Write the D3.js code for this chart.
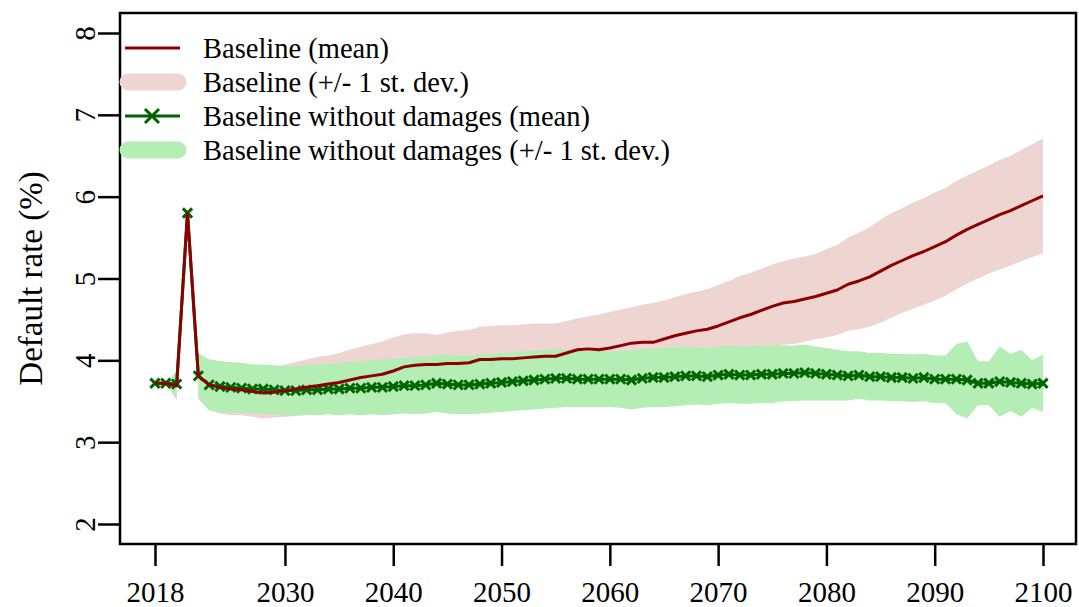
<!DOCTYPE html>
<html><head><meta charset="utf-8">
<script src="https://cdn.jsdelivr.net/npm/d3@7"></script>
<style>body{margin:0;background:#fff}svg{display:block}svg text{font-family:'Liberation Serif','Times New Roman',serif}</style>
</head><body>
<svg id="c" width="1079" height="607"></svg>
<script>
const years = d3.range(2018, 2101);
const baselineMean = [3.72,3.72,3.69,5.80,3.81,3.70,3.67,3.65,3.64,3.62,3.60,3.61,3.63,3.65,3.67,3.69,3.71,3.73,3.76,3.79,3.81,3.83,3.87,3.92,3.94,3.95,3.95,3.96,3.96,3.97,4.01,4.01,4.02,4.02,4.03,4.04,4.05,4.05,4.09,4.13,4.14,4.13,4.15,4.18,4.21,4.22,4.22,4.26,4.30,4.33,4.36,4.38,4.42,4.47,4.52,4.56,4.61,4.66,4.70,4.72,4.75,4.78,4.82,4.86,4.93,4.97,5.02,5.09,5.16,5.22,5.28,5.33,5.39,5.45,5.53,5.60,5.66,5.72,5.78,5.83,5.89,5.95,6.01];
const baselineSd = [0,0,0.18,null,0.28,0.31,0.32,0.32,0.31,0.31,0.31,0.31,0.32,0.33,0.34,0.35,0.35,0.36,0.37,0.38,0.39,0.40,0.41,0.40,0.39,0.38,0.36,0.38,0.40,0.40,0.40,0.41,0.41,0.41,0.41,0.41,0.40,0.40,0.39,0.38,0.40,0.43,0.44,0.44,0.44,0.46,0.48,0.47,0.47,0.48,0.48,0.49,0.50,0.50,0.51,0.51,0.51,0.51,0.51,0.52,0.52,0.52,0.54,0.55,0.57,0.59,0.61,0.63,0.64,0.64,0.65,0.65,0.66,0.66,0.66,0.66,0.66,0.66,0.67,0.67,0.68,0.69,0.70];
const noDamMean = [3.72,3.72,3.71,5.80,3.81,3.70,3.68,3.67,3.66,3.65,3.65,3.64,3.63,3.63,3.64,3.64,3.65,3.65,3.66,3.66,3.67,3.67,3.68,3.69,3.69,3.70,3.72,3.71,3.70,3.70,3.71,3.72,3.73,3.74,3.75,3.76,3.77,3.78,3.78,3.77,3.77,3.77,3.77,3.77,3.76,3.78,3.79,3.79,3.80,3.81,3.81,3.80,3.82,3.83,3.82,3.82,3.83,3.83,3.84,3.84,3.85,3.84,3.83,3.82,3.81,3.82,3.80,3.80,3.79,3.79,3.78,3.79,3.77,3.77,3.77,3.76,3.72,3.72,3.74,3.73,3.72,3.71,3.72];
const noDamSd = [0,0,0.17,null,0.27,0.31,0.31,0.31,0.31,0.30,0.30,0.30,0.30,0.30,0.30,0.31,0.31,0.32,0.32,0.33,0.33,0.34,0.34,0.34,0.35,0.35,0.35,0.36,0.36,0.36,0.36,0.36,0.36,0.36,0.36,0.36,0.36,0.36,0.35,0.34,0.34,0.34,0.34,0.35,0.36,0.36,0.36,0.36,0.36,0.36,0.35,0.35,0.35,0.35,0.35,0.35,0.35,0.35,0.34,0.34,0.34,0.33,0.32,0.31,0.30,0.29,0.29,0.29,0.29,0.29,0.29,0.29,0.29,0.29,0.43,0.47,0.27,0.27,0.43,0.35,0.41,0.29,0.35];
const xTicks = [2018,2030,2040,2050,2060,2070,2080,2090,2100];
const yTicks = [2,3,4,5,6,7,8];
const legendLabels = ["Baseline (mean)","Baseline (+/- 1 st. dev.)","Baseline without damages (mean)","Baseline without damages (+/- 1 st. dev.)"];

const COL = {red:"#8B0000", redBand:"#EED5D2", green:"#006400", greenBand:"#B4EEB4"};
const FONT = "'Liberation Serif','Times New Roman',serif";
const svg = d3.select("#c");
const box = {l:120, r:1076, t:13, b:544};
const x = d3.scaleLinear().domain([2018,2100]).range([155,1043]);
const y = d3.scaleLinear().domain([2,8]).range([524,33]);

const rows = (m, s) => years.map((yr,i)=>({yr, m:m[i], s:s[i]}));
const base = rows(baselineMean, baselineSd), nod = rows(noDamMean, noDamSd);
const area = d3.area().defined(d=>d.s!=null).x(d=>x(d.yr)).y0(d=>y(d.m-d.s)).y1(d=>y(d.m+d.s));
const line = d3.line().x(d=>x(d.yr)).y(d=>y(d.m));

svg.append("path").datum(base).attr("d",area).attr("fill",COL.redBand);
svg.append("path").datum(nod).attr("d",area).attr("fill",COL.greenBand);
svg.append("path").datum(nod).attr("d",line).attr("fill","none").attr("stroke",COL.green).attr("stroke-width",3);
const cs = 4.6;
svg.append("g").selectAll("path").data(nod).join("path")
  .attr("d",d=>{const cx=x(d.yr), cy=y(d.m);return `M${cx-cs},${cy-cs}L${cx+cs},${cy+cs}M${cx-cs},${cy+cs}L${cx+cs},${cy-cs}`;})
  .attr("stroke",COL.green).attr("stroke-width",3).attr("fill","none");
svg.append("path").datum(base).attr("d",line).attr("fill","none").attr("stroke",COL.red).attr("stroke-width",3).attr("stroke-linejoin","round");

// box
svg.append("rect").attr("x",box.l).attr("y",box.t).attr("width",box.r-box.l).attr("height",box.b-box.t)
  .attr("fill","none").attr("stroke","#000").attr("stroke-width",2.5);

// x axis
const xa = svg.append("g").attr("transform",`translate(0,${box.b})`)
  .call(d3.axisBottom(x).tickValues(xTicks).tickFormat(d3.format("d")).tickSize(22).tickPadding(15));
xa.attr("font-family",FONT).attr("font-size",29);
xa.select(".domain").remove();
xa.selectAll("line").attr("stroke-width",2.5);
xa.selectAll("text").style("font-family",FONT).style("font-size","29px").attr("fill","#000");

// y axis
const ya = svg.append("g").attr("transform",`translate(${box.l},0)`)
  .call(d3.axisLeft(y).tickValues(yTicks).tickFormat(d3.format("d")).tickSize(22).tickPadding(0));
ya.attr("font-family",FONT).attr("font-size",29);
ya.select(".domain").remove();
ya.selectAll("line").attr("stroke-width",2.5);
ya.selectAll("text").style("font-family",FONT).style("font-size","29px").attr("fill","#000")
  .attr("x",null).attr("dy",null).attr("text-anchor","middle").attr("dominant-baseline","central")
  .attr("transform","translate(-35,0) rotate(-90)");

svg.append("text").attr("transform",`translate(31,${(box.t+box.b)/2}) rotate(-90)`)
  .attr("text-anchor","middle").attr("dominant-baseline","central")
  .style("font-family",FONT).style("font-size","33px").text("Default rate (%)");

// legend
const lg = svg.append("g");
const ly = [48,82,116,150];
lg.append("line").attr("x1",125).attr("x2",180).attr("y1",ly[0]).attr("y2",ly[0]).attr("stroke",COL.red).attr("stroke-width",3);
lg.append("line").attr("x1",128).attr("x2",178).attr("y1",ly[1]).attr("y2",ly[1]).attr("stroke",COL.redBand).attr("stroke-width",17).attr("stroke-linecap","round");
lg.append("line").attr("x1",125).attr("x2",180).attr("y1",ly[2]).attr("y2",ly[2]).attr("stroke",COL.green).attr("stroke-width",3);
const lc = 7;
lg.append("path").attr("d",`M${152-lc},${ly[2]-lc}L${152+lc},${ly[2]+lc}M${152-lc},${ly[2]+lc}L${152+lc},${ly[2]-lc}`).attr("stroke",COL.green).attr("stroke-width",3);
lg.append("line").attr("x1",128).attr("x2",178).attr("y1",ly[3]).attr("y2",ly[3]).attr("stroke",COL.greenBand).attr("stroke-width",17).attr("stroke-linecap","round");
lg.selectAll("text").data(legendLabels).join("text")
  .attr("x",203).attr("y",(d,i)=>ly[i]).attr("dominant-baseline","central")
  .style("font-family",FONT).style("font-size","28.5px").text(d=>d);
</script>
</body></html>
